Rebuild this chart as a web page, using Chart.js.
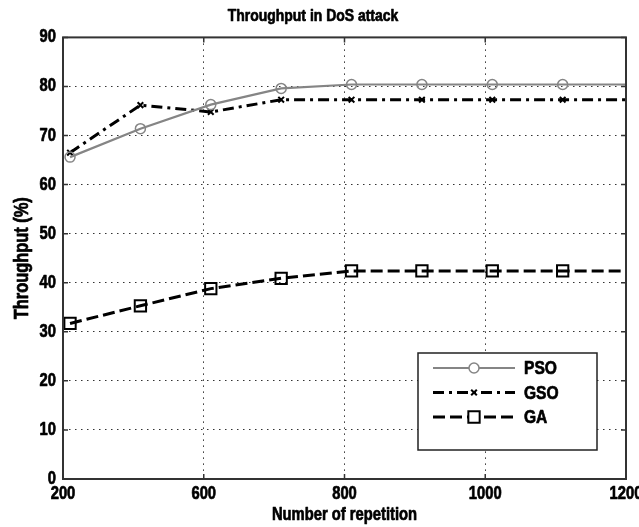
<!DOCTYPE html>
<html>
<head>
<meta charset="utf-8">
<script src="https://cdn.jsdelivr.net/npm/chart.js@4"></script>
<style>
  html, body { margin: 0; padding: 0; background: #fff; }
  #wrap { width: 639px; height: 527px; }
</style>
</head>
<body>
<div id="wrap"><canvas id="chart" width="639" height="527"></canvas></div>
<script>
//data (last point has no marker, line just runs to the edge)
const repetitions = [210, 310, 410, 510, 610, 710, 810, 910, 1000];
const psoValues = [65.6, 71.4, 76.3, 79.6, 80.4, 80.4, 80.4, 80.4, 80.4];
const gsoValues = [66.5, 76.2, 74.8, 77.3, 77.3, 77.3, 77.3, 77.3, 77.3];
const gaValues  = [31.7, 35.3, 38.8, 40.9, 42.4, 42.4, 42.4, 42.4, 42.4];
const markerCount = 8;

//x ticks: where the grid lines sit and what they are labelled with
const xTickPositions = [200, 400, 600, 800, 1000];
const xTickLabels = ["200", "600", "800", "1000", "1200"];
const yTicks = [0, 10, 20, 30, 40, 50, 60, 70, 80, 90];

const FONT = "'Liberation Sans', Arial, sans-serif";

function pts(xs, ys) { return xs.map((x, i) => ({ x: x, y: ys[i] })); }
function markerSize(r) { return c => c.dataIndex < markerCount ? r : 0; }

//the original uses a narrow heavy font, there is none installed so squeeze the text sideways
//and give it a thin outline so it looks as heavy
const narrowText = {
  id: "narrowText",
  beforeInit(chart) {
    const ctx = chart.ctx;
    const fill = ctx.fillText.bind(ctx);
    const stroke = ctx.strokeText.bind(ctx);
    ctx.fillText = function (text, x, y, maxWidth) {
      ctx.save();
      ctx.translate(x, y);
      ctx.scale(0.82, 1);
      if (maxWidth === undefined) fill(text, 0, 0);
      else fill(text, 0, 0, maxWidth / 0.82);
      ctx.setLineDash([]);
      ctx.lineWidth = 0.7;
      ctx.lineJoin = "round";
      ctx.strokeStyle = ctx.fillStyle;
      stroke(text, 0, 0);
      ctx.restore();
    };
  }
};

//box round the plot + little inward ticks + legend box, matlab style
const frameAndLegend = {
  id: "frameAndLegend",
  afterDraw(chart) {
    const ctx = chart.ctx;
    const a = chart.chartArea;
    const xs = chart.scales.x, ys = chart.scales.y;
    ctx.save();
    ctx.strokeStyle = "#333";
    ctx.lineWidth = 2;
    ctx.strokeRect(a.left, a.top, a.right - a.left, a.bottom - a.top);

    ctx.lineWidth = 1.5;
    ctx.beginPath();
    yTicks.forEach(v => {
      const py = ys.getPixelForValue(v);
      ctx.moveTo(a.left, py); ctx.lineTo(a.left + 5, py);
      ctx.moveTo(a.right, py); ctx.lineTo(a.right - 5, py);
    });
    xTickPositions.forEach(v => {
      const px = xs.getPixelForValue(v);
      ctx.moveTo(px, a.bottom); ctx.lineTo(px, a.bottom - 5);
      ctx.moveTo(px, a.top); ctx.lineTo(px, a.top + 5);
    });
    ctx.stroke();

    //legend
    const bw = 179, bh = 97;
    const bx = a.right - 29 - bw, by = a.bottom - 29 - bh;
    ctx.fillStyle = "#fff";
    ctx.fillRect(bx, by, bw, bh);
    ctx.strokeStyle = "#222";
    ctx.lineWidth = 1.5;
    ctx.strokeRect(bx, by, bw, bh);

    chart.data.datasets.forEach((ds, i) => {
      const ry = by + 15 + i * 24.5;
      ctx.save();
      ctx.strokeStyle = ds.borderColor;
      ctx.lineWidth = ds.borderWidth;
      ctx.setLineDash(ds.borderDash || []);
      ctx.beginPath();
      ctx.moveTo(bx + 15, ry);
      ctx.lineTo(bx + 97, ry);
      ctx.stroke();
      ctx.setLineDash([]);
      ctx.strokeStyle = ds.pointBorderColor;
      ctx.fillStyle = "#fff";
      ctx.lineWidth = ds.pointBorderWidth;
      Chart.helpers.drawPoint(ctx, { pointStyle: ds.pointStyle, radius: ds.legendRadius, borderWidth: ds.pointBorderWidth, rotation: 0 }, bx + 56, ry);
      ctx.restore();

      ctx.fillStyle = "#000";
      ctx.font = "bold 19px " + FONT;
      ctx.textAlign = "left";
      ctx.textBaseline = "middle";
      ctx.fillText(ds.label, bx + 106, ry + 1);
    });
    ctx.restore();
  }
};

new Chart(document.getElementById("chart"), {
  type: "line",
  data: {
    datasets: [
      {
        label: "PSO",
        data: pts(repetitions, psoValues),
        borderColor: "#858585",
        borderWidth: 2.2,
        pointStyle: "circle",
        pointRadius: markerSize(5),
        legendRadius: 5,
        pointBorderColor: "#858585",
        pointBackgroundColor: "rgba(255,255,255,0)",
        pointBorderWidth: 1.5,
      },
      {
        label: "GSO",
        data: pts(repetitions, gsoValues),
        borderColor: "#000",
        borderWidth: 3,
        borderDash: [11, 5, 3, 5],
        pointStyle: "crossRot",
        pointRadius: markerSize(4),
        legendRadius: 4,
        pointBorderColor: "#000",
        pointBorderWidth: 2,
      },
      {
        label: "GA",
        data: pts(repetitions, gaValues),
        borderColor: "#000",
        borderWidth: 3,
        borderDash: [12, 5],
        pointStyle: "rect",
        pointRadius: markerSize(8),
        legendRadius: 8,
        pointBorderColor: "#000",
        pointBackgroundColor: "rgba(255,255,255,0)",
        pointBorderWidth: 2,
      },
    ]
  },
  options: {
    responsive: false,
    animation: false,
    layout: { padding: { left: 0, right: 13, top: 0, bottom: 0 } },
    plugins: {
      legend: { display: false },
      tooltip: { enabled: false },
      title: {
        display: true,
        text: "Throughput in DoS attack",
        color: "#000",
        font: { family: FONT, size: 17, weight: "bold" },
        padding: { top: 6, bottom: 11 },
      },
    },
    scales: {
      x: {
        type: "linear",
        min: 200,
        max: 1000,
        afterBuildTicks: s => { s.ticks = xTickPositions.map(v => ({ value: v })); },
        afterFit: s => { s.height = 48; s.paddingLeft = 0; s.paddingRight = 0; },
        ticks: {
          color: "#000",
          padding: 4,
          maxRotation: 0,
          autoSkip: false,
          font: { family: FONT, size: 18, weight: "bold" },
          callback: v => xTickLabels[xTickPositions.indexOf(v)],
        },
        grid: { color: "#333", lineWidth: 1, drawTicks: false },
        border: { display: false, dash: [1.5, 4.5] },
        title: {
          display: true,
          text: "Number of repetition",
          color: "#000",
          font: { family: FONT, size: 18, weight: "bold" },
          padding: { top: 0, bottom: 1 },
        },
      },
      y: {
        min: 0,
        max: 90,
        afterBuildTicks: s => { s.ticks = yTicks.map(v => ({ value: v })); },
        afterFit: s => { s.width = 63; s.paddingTop = 0; s.paddingBottom = 0; },
        ticks: {
          color: "#000",
          padding: 7,
          font: { family: FONT, size: 18, weight: "bold" },
        },
        grid: { color: "#333", lineWidth: 1, drawTicks: false },
        border: { display: false, dash: [1.5, 4.5] },
        title: {
          display: true,
          text: "Throughput (%)",
          color: "#000",
          font: { family: FONT, size: 20, weight: "bold" },
          padding: { top: 10, bottom: 0 },
        },
      },
    },
  },
  plugins: [narrowText, frameAndLegend],
});
</script>
</body>
</html>
